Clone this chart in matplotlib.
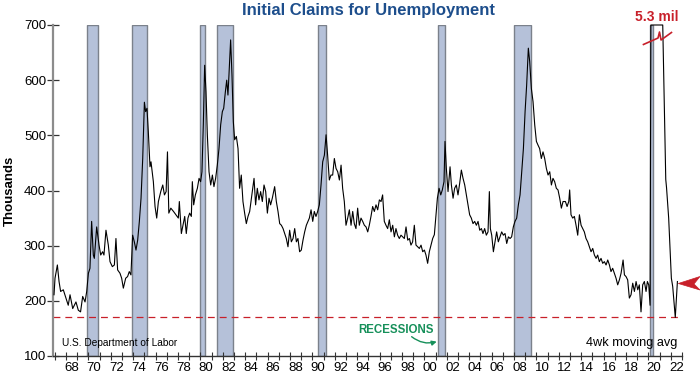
import matplotlib
matplotlib.use('Agg')
import matplotlib.pyplot as plt
import numpy as np
from matplotlib.patches import Polygon

plt.rcParams['font.family'] = ['Liberation Sans', 'DejaVu Sans']

# ---- data, thousands, 4wk moving avg ----
years = [
    1966.93, 1967.02, 1967.23, 1967.38, 1967.52, 1967.76, 1968.00, 1968.20, 1968.36, 1968.60,
    1968.89, 1969.10, 1969.30, 1969.49, 1969.70, 1969.85, 1970.00, 1970.14, 1970.29, 1970.44,
    1970.53, 1970.74, 1970.95, 1971.10, 1971.27, 1971.39, 1971.57, 1971.78, 1971.93, 1972.14,
    1972.32, 1972.46, 1972.61, 1972.82, 1972.97, 1973.12, 1973.33, 1973.50, 1973.65, 1973.80,
    1973.95, 1974.10, 1974.25, 1974.40, 1974.55, 1974.70, 1974.85, 1975.00, 1975.11, 1975.23,
    1975.35, 1975.50, 1975.59, 1975.80, 1975.95, 1976.10, 1976.25, 1976.46, 1976.64, 1976.79,
    1976.94, 1977.06, 1977.18, 1977.36, 1977.60, 1977.82, 1978.03, 1978.12, 1978.30, 1978.45,
    1978.60, 1978.74, 1978.89, 1979.04, 1979.19, 1979.28, 1979.40, 1979.55, 1979.73, 1979.88,
    1980.02, 1980.14, 1980.26, 1980.38, 1980.50, 1980.62, 1980.77, 1980.92, 1981.07, 1981.21,
    1981.36, 1981.51, 1981.66, 1981.81, 1981.96, 1982.08, 1982.23, 1982.35, 1982.46, 1982.55,
    1982.70, 1982.82, 1982.94, 1983.06, 1983.21, 1983.36, 1983.50, 1983.65, 1983.80, 1983.95,
    1984.10, 1984.25, 1984.40, 1984.60, 1984.79, 1984.93, 1985.08, 1985.23, 1985.38, 1985.53,
    1985.68, 1985.83, 1985.98, 1986.13, 1986.27, 1986.42, 1986.63, 1986.78, 1986.93, 1987.08,
    1987.23, 1987.38, 1987.52, 1987.67, 1987.82, 1987.97, 1988.12, 1988.27, 1988.42, 1988.57,
    1988.71, 1988.86, 1989.01, 1989.16, 1989.31, 1989.46, 1989.60, 1989.73, 1989.88, 1990.03,
    1990.17, 1990.32, 1990.47, 1990.62, 1990.77, 1990.92, 1991.07, 1991.22, 1991.36, 1991.51,
    1991.66, 1991.81, 1991.96, 1992.11, 1992.26, 1992.41, 1992.56, 1992.70, 1992.85, 1993.00,
    1993.15, 1993.30, 1993.45, 1993.60, 1993.74, 1993.89, 1994.04, 1994.19, 1994.34, 1994.49,
    1994.64, 1994.79, 1994.94, 1995.08, 1995.23, 1995.38, 1995.53, 1995.68, 1995.83, 1995.98,
    1996.13, 1996.27, 1996.42, 1996.57, 1996.72, 1996.87, 1997.02, 1997.17, 1997.32, 1997.46,
    1997.61, 1997.76, 1997.91, 1998.06, 1998.21, 1998.36, 1998.51, 1998.66, 1998.80, 1998.95,
    1999.10, 1999.25, 1999.40, 1999.55, 1999.70, 1999.85, 2000.00, 2000.14, 2000.29, 2000.44,
    2000.59, 2000.74, 2000.89, 2001.01, 2001.16, 2001.31, 2001.46, 2001.60, 2001.75, 2001.84,
    2001.96, 2002.11, 2002.29, 2002.41, 2002.56, 2002.70, 2002.85, 2003.00, 2003.15, 2003.30,
    2003.45, 2003.60, 2003.75, 2003.90, 2004.04, 2004.19, 2004.34, 2004.49, 2004.64, 2004.79,
    2004.94, 2005.09, 2005.23, 2005.38, 2005.53, 2005.68, 2005.80, 2005.89, 2006.01, 2006.16,
    2006.30, 2006.45, 2006.60, 2006.75, 2006.90, 2007.05, 2007.20, 2007.35, 2007.50, 2007.65,
    2007.79, 2007.94, 2008.09, 2008.24, 2008.39, 2008.54, 2008.69, 2008.84, 2008.99, 2009.13,
    2009.28, 2009.40, 2009.55, 2009.70, 2009.85, 2010.00, 2010.15, 2010.29, 2010.44, 2010.59,
    2010.74, 2010.89, 2011.04, 2011.19, 2011.34, 2011.48, 2011.63, 2011.78, 2011.93, 2012.08,
    2012.23, 2012.38, 2012.59, 2012.74, 2012.89, 2012.97, 2013.09, 2013.24, 2013.39, 2013.54,
    2013.69, 2013.84, 2013.99, 2014.14, 2014.28, 2014.43, 2014.58, 2014.73, 2014.88, 2015.03,
    2015.18, 2015.33, 2015.47, 2015.62, 2015.77, 2015.92, 2016.07, 2016.22, 2016.37, 2016.52,
    2016.66, 2016.81, 2016.96, 2017.11, 2017.26, 2017.41, 2017.56, 2017.74, 2017.86, 2018.00,
    2018.15, 2018.30, 2018.45, 2018.60, 2018.75, 2018.90, 2019.05, 2019.19, 2019.34, 2019.49,
    2019.64, 2019.79, 2019.91, 2020.03, 2020.15, 2020.22, 2020.25, 2020.27, 2020.29, 2020.35,
    2020.45, 2020.60, 2020.75, 2020.90, 2021.05, 2021.20, 2021.28, 2021.55, 2021.62, 2021.81,
    2022.05, 2022.17, 2022.40, 2022.59,
]
claims = [
    211, 241, 265, 235, 217, 220, 205, 192, 211, 186,
    198, 183, 180, 208, 198, 217, 250, 259, 344, 283,
    277, 334, 301, 283, 289, 283, 328, 301, 271, 262,
    265, 313, 256, 250, 241, 223, 241, 244, 253, 247,
    319, 307, 292, 310, 344, 386, 458, 560, 543, 549,
    507, 443, 452, 416, 371, 350, 380, 398, 410, 392,
    398, 470, 359, 368, 362, 356, 350, 380, 322, 337,
    353, 322, 350, 359, 353, 416, 374, 392, 404, 422,
    416, 434, 519, 627, 579, 501, 434, 410, 428, 407,
    422, 446, 476, 519, 543, 549, 579, 600, 573, 609,
    673, 609, 525, 492, 498, 476, 404, 428, 380, 359,
    340, 353, 362, 392, 422, 374, 404, 383, 398, 380,
    410, 398, 359, 386, 374, 386, 407, 380, 362, 340,
    337, 331, 322, 313, 298, 328, 307, 313, 331, 307,
    313, 289, 292, 310, 325, 337, 344, 350, 365, 344,
    362, 353, 362, 374, 410, 452, 464, 501, 464, 419,
    428, 428, 458, 440, 434, 419, 446, 404, 380, 337,
    350, 365, 337, 362, 340, 331, 368, 337, 350, 344,
    337, 334, 325, 337, 353, 371, 362, 374, 365, 383,
    380, 392, 344, 337, 331, 347, 325, 337, 316, 331,
    319, 313, 319, 316, 313, 334, 310, 313, 301, 307,
    337, 301, 298, 295, 301, 289, 292, 283, 268, 289,
    301, 313, 320, 350, 386, 404, 392, 401, 416, 489,
    440, 398, 443, 410, 386, 404, 410, 392, 413, 437,
    422, 410, 392, 374, 356, 350, 340, 344, 337, 344,
    328, 331, 322, 331, 319, 325, 398, 331, 319, 289,
    307, 325, 307, 316, 325, 319, 322, 304, 316, 313,
    316, 334, 344, 350, 374, 392, 434, 476, 543, 591,
    658, 634, 585, 561, 519, 489, 482, 476, 458, 470,
    458, 440, 428, 434, 410, 422, 416, 404, 401, 386,
    368, 380, 380, 371, 380, 401, 356, 350, 353, 337,
    319, 356, 337, 331, 325, 313, 307, 298, 289, 295,
    283, 277, 283, 271, 277, 268, 271, 265, 274, 265,
    253, 259, 250, 241, 229, 238, 250, 274, 247, 244,
    238, 205, 211, 232, 217, 235, 220, 229, 180, 229,
    235, 217, 235, 229, 192, 1000, 2900, 4300, 5300, 3800,
    2000, 1300, 850, 750, 830, 760, 700, 420, 405, 350,
    241, 226, 170, 235,
]
recession_start = [1969.90, 1973.87, 1980.00, 1981.52, 1990.53, 2001.20, 2008.00, 2020.12]
recession_end = [1970.85, 1975.20, 1980.45, 1982.88, 1991.20, 2001.87, 2009.50, 2020.37]
threshold = 170
y_ticks = [100, 200, 300, 400, 500, 600, 700]
label_years = list(range(1968, 2023, 2))
y_cap = 700

RED = '#c8202a'
GREEN = '#16905a'
BLUE_T = '#1d4e8c'

fig = plt.figure(figsize=(7, 3.76), dpi=100)
W, H = 700, 376
ax = fig.add_axes([53 / W, 20 / H, 629 / W, 331 / H])

for s, e in zip(recession_start, recession_end):
    ax.axvspan(s, e, facecolor='#b5c1d9', edgecolor='#7b818b', lw=1.0, zorder=1)

ax.axhline(threshold, color=RED, lw=0.9, ls=(0, (5.5, 4)), zorder=2)
ax.plot(years, np.minimum(np.array(claims, float), y_cap), color='black', lw=0.8,
        zorder=3, clip_on=False)

ax.set_xlim(1966.84, 2023.0)
ax.set_ylim(100, 700)

# x ticks: one per year, labels centred mid-year
ax.set_xticks(np.arange(1967, 2024))
ax.set_xticklabels([])
ax.set_xticks([y + 0.5 for y in label_years], minor=True)
ax.set_xticklabels([f"{y % 100:02d}" for y in label_years], minor=True, fontsize=9.5)
ax.tick_params(axis='x', which='major', direction='inout', length=6, width=0.8, color='#333333')
ax.tick_params(axis='x', which='minor', length=0, pad=4)

ax.set_yticks(y_ticks)
ax.set_yticklabels([str(v) for v in y_ticks], fontsize=9.5)
ax.tick_params(axis='y', direction='inout', length=8, width=0.9, color='#333333', pad=1)

for sp in ('top', 'right'):
    ax.spines[sp].set_visible(False)
ax.spines['left'].set_color('#8c8c8c')
ax.spines['left'].set_linewidth(1.6)
ax.spines['bottom'].set_color('#333333')
ax.spines['bottom'].set_linewidth(1.0)

# texts
fig.text(368 / W, 1 - 10 / H, 'Initial Claims for Unemployment', ha='center', va='center',
         fontsize=12, fontweight='bold', color=BLUE_T)
fig.text(10 / W, 1 - 191 / H, 'Thousands', rotation=90, ha='center', va='center',
         fontsize=9.5, fontweight='bold')
fig.text(657 / W, 1 - 17 / H, '5.3 mil', ha='center', va='center', fontsize=10,
         fontweight='bold', color=RED)
ax.text(1967.62, 123, 'U.S. Department of Labor', fontsize=7.3, ha='left', va='center')
ax.text(2022.55, 124, '4wk moving avg', fontsize=9.2, ha='right', va='center')
ax.text(1997.46, 147, 'RECESSIONS', fontsize=8.3, fontweight='bold', color=GREEN,
        ha='center', va='center')
ax.annotate('', xy=(2001.1, 126), xytext=(1998.86, 135),
            arrowprops=dict(arrowstyle='-|>', color=GREEN, lw=1.0,
                            connectionstyle='arc3,rad=0.25', mutation_scale=7,
                            shrinkA=0, shrinkB=0))

# break mark on the off-scale spike
ax.plot([2019.56, 2020.86, 2020.99, 2021.13, 2022.06],
        [664.7, 676.4, 687.3, 672.8, 686.4], color=RED, lw=1.2, zorder=5, clip_on=False)

# red arrowhead pointing at latest value
pts = [(678.3, 283.5), (700, 276.5), (694, 284), (700, 290)]
fig.patches.append(Polygon([(x / W, 1 - y / H) for x, y in pts], closed=True,
                           transform=fig.transFigure, facecolor=RED, edgecolor=RED, lw=0.5))

fig.savefig('out.png', dpi=100)
